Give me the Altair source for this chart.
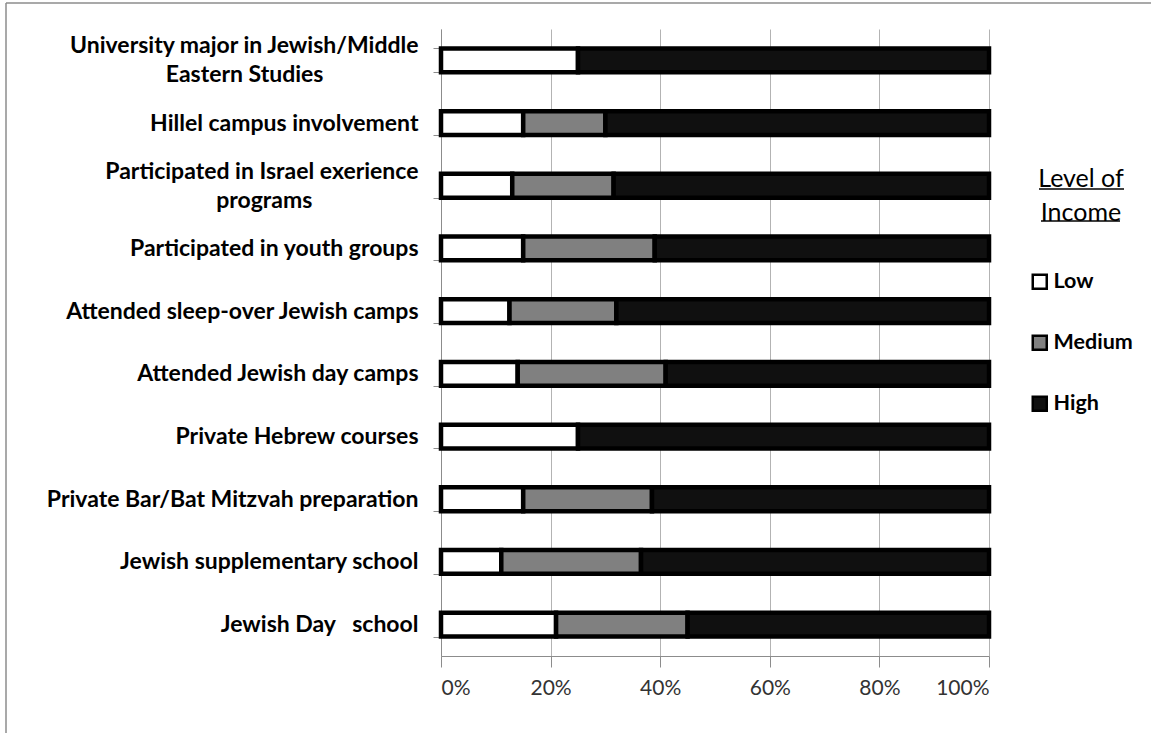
import altair as alt
import pandas as pd

# Survey items, listed top to bottom
categories = [
    "University major in Jewish/Middle\nEastern Studies",
    "Hillel campus involvement",
    "Participated in Israel exerience\nprograms",
    "Participated in youth groups",
    "Attended sleep-over Jewish camps",
    "Attended Jewish day camps",
    "Private Hebrew courses",
    "Private Bar/Bat Mitzvah preparation",
    "Jewish supplementary school",
    "Jewish Day\u00a0\u00a0 school",
]

# Share of participants by income level (percent)
low = [25, 15, 13, 15, 12.5, 14, 25, 15, 11, 21]
medium = [0, 15, 18.5, 24, 19.5, 27, 0, 23.5, 25.5, 24]
high = [75, 70, 68.5, 61, 68, 59, 75, 61.5, 63.5, 55]

levels = ["Low", "Medium", "High"]
level_colors = ["#ffffff", "#808080", "#101010"]
x_ticks = [0, 20, 40, 60, 80, 100]

NBSP = "\u00a0"
ZWSP = "\u200b"

# Trailing padding (in no-break spaces) that centres a wrapped second line
wrap_padding = {
    "University major in Jewish/Middle\nEastern Studies": 17,
    "Participated in Israel exerience\nprograms": 19,
}


def center_second_line(label):
    if label not in wrap_padding:
        return label
    return label + NBSP * wrap_padding[label] + ZWSP


rows = []
for i, cat in enumerate(categories):
    for j, (lvl, vals) in enumerate(zip(levels, [low, medium, high])):
        if vals[i] > 0:
            rows.append({"item": center_second_line(cat), "level": lvl,
                         "share": vals[i], "order": j})
df = pd.DataFrame(rows)
item_order = [center_second_line(c) for c in categories]

FONT = "Lato"

bars = alt.Chart(df).mark_bar(stroke="black", strokeWidth=4.5).encode(
    y=alt.Y(
        "item:N",
        sort=item_order,
        scale=alt.Scale(paddingInner=0.62, paddingOuter=0.31),
        axis=alt.Axis(
            title=None,
            labelExpr="split(datum.label, '\\n')",
            labelFont=FONT,
            labelFontWeight="bold",
            labelFontSize=23,
            labelLineHeight=29,
            labelColor="#000000",
            labelPadding=15,
            labelLimit=600,
            labelOffset={
                "condition": {"test": "indexof(datum.label, '\\n') >= 0",
                              "value": -14.5},
                "value": 0,
            },
            tickBand="extent",
            tickSize=8,
            tickColor="#8c8c8c",
            domainColor="#8c8c8c",
            grid=False,
        ),
    ),
    x=alt.X(
        "share:Q",
        stack="zero",
        scale=alt.Scale(domain=[0, 100], nice=False),
        axis=alt.Axis(
            title=None,
            values=x_ticks,
            labelExpr="datum.value + '%'",
            labelFont=FONT,
            labelFontSize=21,
            labelColor="#333333",
            labelPadding=10,
            tickSize=11,
            tickColor="#8c8c8c",
            domainColor="#8c8c8c",
            grid=True,
            gridColor="#b3b3b3",
            gridWidth=1,
        ),
    ),
    color=alt.Color(
        "level:N",
        scale=alt.Scale(domain=levels, range=level_colors),
        legend=alt.Legend(
            orient="none",
            legendX=588,
            legendY=138,
            title=["Level of", "Income"],
            titleFont=FONT,
            titleFontSize=25,
            titleFontWeight="normal",
            titleColor="#000000",
            titleLineHeight=34,
            titleAnchor="middle",
            titleAlign="center",
            titlePadding=45,
            symbolType="square",
            symbolSize=196,
            symbolStrokeColor="#000000",
            symbolStrokeWidth=2.5,
            labelFont=FONT,
            labelFontSize=21.5,
            labelFontWeight="bold",
            labelColor="#000000",
            labelOffset=3,
            rowPadding=36,
        ),
    ),
    order=alt.Order("order:Q"),
)

# Underlines beneath the two legend title lines
underline1 = alt.Chart().mark_rule(color="#000000", strokeWidth=1.5).encode(
    x=alt.value(598), x2=alt.value(683), y=alt.value(160)
)
underline2 = alt.Chart().mark_rule(color="#000000", strokeWidth=1.5).encode(
    x=alt.value(600), x2=alt.value(679), y=alt.value(192)
)

# Outer frame (top and left edges)
frame_top = alt.Chart().mark_rule(color="#8c8c8c", strokeWidth=1.5).encode(
    x=alt.value(-435), x2=alt.value(710), y=alt.value(-26)
)
frame_left = alt.Chart().mark_rule(color="#8c8c8c", strokeWidth=1.5).encode(
    x=alt.value(-435), y=alt.value(-26), y2=alt.value(704)
)

chart = alt.layer(bars, underline1, underline2, frame_top, frame_left).properties(
    width=548,
    height=627,
    autosize=alt.AutoSizeParams(type="none"),
    padding={"left": 441, "top": 29, "right": 162, "bottom": 77},
    background="#ffffff",
).configure_view(stroke=None)

chart.save("out.html", embed_options={"renderer": "svg", "actions": False})
